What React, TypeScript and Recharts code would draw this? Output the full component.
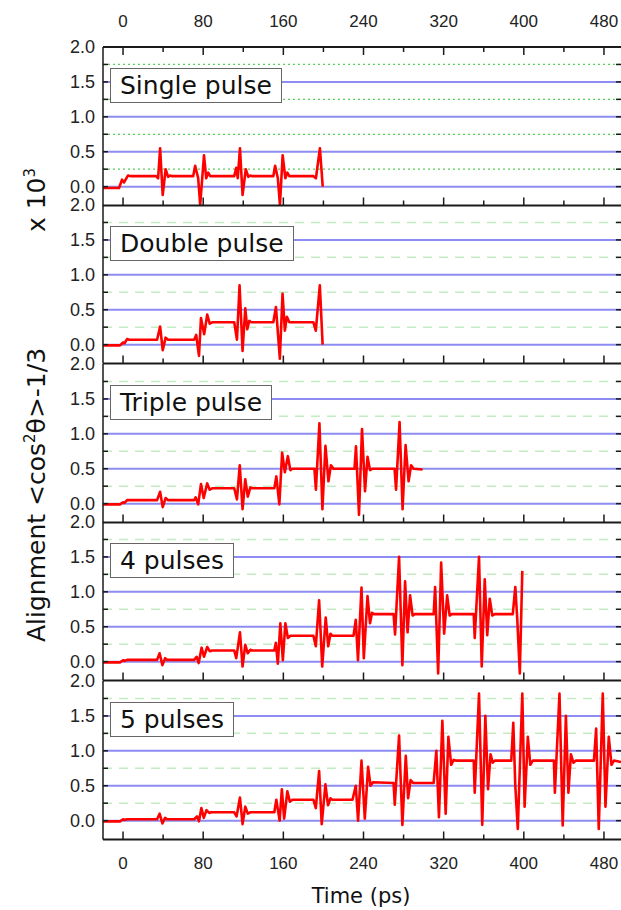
import React from 'react';
import { LineChart, Line, XAxis, YAxis, ReferenceLine } from 'recharts';

// ---------- axis / grid values ----------
const majorTicks = [0, 80, 160, 240, 320, 400, 480];
const allXTicks = [0, 40, 80, 120, 160, 200, 240, 280, 320, 360, 400, 440, 480];
const yLabelTicks = [0, 0.5, 1.0, 1.5, 2.0];
const yInnerTicks = [0, 0.25, 0.5, 0.75, 1.0, 1.25, 1.5, 1.75];
const blueLevels = [0, 0.5, 1.0, 1.5];
const greenLevels = [0.25, 0.75, 1.25, 1.75];
const panelLabels = ['Single pulse', 'Double pulse', 'Triple pulse', '4 pulses', '5 pulses'];
const xTitle = 'Time (ps)';

// ---------- series: [time (ps), alignment x10^3] ----------
const singlePulse: number[][] = [
  [-20, -0.02], [-4, -0.02], [-1, 0.1], [1, 0.06], [5, 0.16], [8, 0.15], [33, 0.15], [35, 0.12],
  [37, 0.55], [39.6, -0.12], [42.5, 0.25], [45, 0.14], [47, 0.16], [49, 0.15], [70, 0.15],
  [72, 0.3], [75, 0.12], [77, -0.26], [80.8, 0.45], [83, 0.12], [85, 0.2], [87, 0.15],
  [111, 0.15], [113, 0.27], [114.5, 0.12], [116.7, 0.55], [119.3, -0.12], [122.5, 0.25], [125, 0.14],
  [127, 0.16], [129, 0.15], [150, 0.15], [151.8, 0.3], [154.5, 0.12], [156.6, -0.26], [159.3, 0.45],
  [162, 0.12], [164, 0.2], [166, 0.15], [190, 0.15], [192.5, 0.12], [196.5, 0.55], [199.3, 0.0],
];

const doublePulse: number[][] = [
  [-20, -0.01], [-3, -0.01], [0, 0.03], [1.5, 0.02], [4, 0.08], [6, 0.07], [34, 0.07], [37, 0.26],
  [39.6, -0.08], [42.5, 0.1], [45, 0.07], [71, 0.07], [73, 0.14], [75.8, -0.16], [77.8, 0.38],
  [81, 0.15], [84, 0.43], [86.5, 0.3], [89, 0.32], [111, 0.32], [113.7, 0.07], [116.3, 0.85],
  [119.3, -0.09], [122, 0.52], [124, 0.22], [126, 0.34], [128, 0.32], [150, 0.32], [152.6, 0.54],
  [156.5, -0.2], [159.2, 0.73], [161.5, 0.2], [163.5, 0.4], [166, 0.32], [190, 0.32], [192.4, 0.2],
  [196.4, 0.85], [199.2, 0.0],
];

const triplePulse: number[][] = [
  [-20, -0.01], [-3, -0.01], [0, 0.02], [1.5, 0.01], [4, 0.05], [6, 0.05], [34, 0.05], [37, 0.17],
  [39.6, -0.05], [42.5, 0.08], [45, 0.05], [71, 0.05], [72.5, 0.09], [75, -0.01], [77.8, 0.28],
  [80.5, 0.08], [84, 0.29], [86.5, 0.2], [89, 0.22], [111, 0.22], [113.7, 0.06], [116.5, 0.55],
  [119.3, -0.08], [122, 0.35], [124.5, 0.1], [127, 0.23], [129, 0.22], [151, 0.22], [153, 0.39],
  [156, -0.01], [158.8, 0.73], [161.5, 0.45], [164.5, 0.68], [167, 0.48], [169, 0.5], [191, 0.5],
  [192.5, 0.2], [196, 1.15], [199, -0.08], [202, 0.83], [205, 0.32], [207.5, 0.55], [210, 0.5],
  [231, 0.5], [232.5, 0.82], [235.5, -0.16], [238.5, 1.07], [241.5, 0.18], [244, 0.67], [246.5, 0.48],
  [249, 0.5], [271, 0.5], [272.5, 0.2], [276, 1.17], [279, -0.08], [282, 0.84], [285, 0.32],
  [287.5, 0.55], [290, 0.5], [299, 0.49],
];

const fourPulses: number[][] = [
  [-20, -0.01], [-3, -0.01], [0, 0.02], [1.5, 0.01], [4, 0.025], [34, 0.025], [36.5, 0.12],
  [39.3, -0.05], [42, 0.05], [44, 0.025], [71, 0.025], [73.4, 0.07], [75.5, -0.02], [78.4, 0.2],
  [80.8, 0.07], [84, 0.21], [86.5, 0.15], [89, 0.16], [111, 0.16], [113, 0.05], [116.7, 0.42],
  [119.3, -0.07], [122, 0.24], [124.5, 0.12], [127, 0.17], [129, 0.16], [151, 0.16], [152.5, 0.27],
  [154.5, -0.03], [157, 0.55], [159.5, 0.02], [162, 0.55], [164.5, 0.34], [167, 0.37], [190, 0.37],
  [192.4, 0.22], [195.7, 0.88], [198.8, -0.07], [202.3, 0.63], [204.8, 0.22], [207, 0.4], [209, 0.37],
  [230, 0.37], [232.3, 0.6], [234.5, 0.02], [238, 1.06], [240.3, 0.05], [244, 0.94], [246.5, 0.55],
  [248.5, 0.7], [250.5, 0.68], [270, 0.68], [271.5, 0.39], [275.5, 1.5], [278.8, -0.05], [281.5, 1.15],
  [284, 0.42], [286.5, 0.95], [289, 0.66], [291, 0.68], [310, 0.68], [311.5, 1.07], [314.5, -0.17],
  [317.5, 1.42], [320.5, 0.4], [323.5, 0.95], [326, 0.66], [328, 0.68], [350, 0.68], [351, 0.34],
  [355.3, 1.5], [358, -0.07], [361, 1.18], [363.5, 0.38], [366, 0.9], [368.5, 0.66], [371, 0.68],
  [389, 0.68], [391.5, 1.07], [393.5, 0.6], [396, -0.17], [398.5, 1.3],
];

const fivePulses: number[][] = [
  [-20, -0.01], [-3, -0.01], [0, 0.02], [1.5, 0.01], [4, 0.02], [34, 0.02], [36.5, 0.1],
  [39.3, -0.04], [42, 0.04], [44, 0.02], [71, 0.02], [73.8, 0.06], [75.8, -0.01], [78.2, 0.18],
  [80.6, 0.04], [83.3, 0.15], [86, 0.11], [88, 0.12], [111, 0.12], [113.3, 0.06], [116.7, 0.33],
  [119.3, -0.05], [122, 0.2], [124.5, 0.1], [127, 0.12], [151, 0.12], [153, 0.3], [156.3, 0.0],
  [158.5, 0.45], [160.8, 0.03], [164, 0.42], [166.5, 0.27], [169, 0.3], [190, 0.3], [192.4, 0.18],
  [195.7, 0.71], [198.3, -0.05], [202, 0.52], [204.6, 0.22], [207, 0.32], [209, 0.3], [229, 0.3],
  [232.3, 0.5], [234.6, 0.0], [238, 0.86], [241.3, 0.03], [244.6, 0.77], [247, 0.5], [249.5, 0.55],
  [270, 0.54], [271.2, 0.23], [275.5, 1.22], [278.8, -0.06], [282.2, 0.93], [284.5, 0.32], [287, 0.58],
  [289.5, 0.54], [310, 0.54], [312.7, 1.0], [315.3, 0.05], [318.7, 1.43], [322, 0.1], [324.7, 1.2],
  [327.5, 0.8], [330, 0.87], [332, 0.86], [350, 0.86], [351, 0.4], [355.3, 1.82], [358.5, -0.06],
  [361.6, 1.5], [364.3, 0.45], [366.8, 0.95], [369, 0.83], [371, 0.86], [387.5, 0.86], [389.5, 1.4],
  [391.5, 0.5], [394, -0.12], [398.5, 1.82], [400.8, 0.2], [404, 1.2], [406.5, 0.8], [409, 0.86],
  [430, 0.86], [431, 0.4], [435.6, 1.82], [438.8, -0.07], [442, 1.5], [444.5, 0.4], [447, 0.95],
  [449.5, 0.83], [452, 0.86], [470, 0.86], [472.2, 1.32], [474.8, -0.12], [478.8, 1.82], [481.5, 0.2],
  [484.8, 1.2], [487.5, 0.8], [490, 0.86], [497, 0.84],
];

const panelSeries = [singlePulse, doublePulse, triplePulse, fourPulses, fivePulses];

// ---------- layout ----------
const W = 621;
const X_DOMAIN: [number, number] = [-20, 497];
const Y_DOMAIN: [number, number] = [-0.27, 2.0];
const PANEL_H = 158.5;
const FIRST_TOP = 46.5;
const MT = 40;
const MB = 60;
const FONT = '"Liberation Sans", Arial, sans-serif';
const TITLE_FONT = '"DejaVu Sans", sans-serif';
const AXIS_COLOR = '#1a1a1a';

// tick marks drawn inside the frame
const XMark = (props: any) => {
  const { x, y, payload, dir } = props;
  const len = payload && payload.value % 80 === 0 ? 8 : 5;
  return <line x1={x} x2={x} y1={y} y2={y + dir * len} stroke={AXIS_COLOR} strokeWidth={1.5} />;
};
const YMark = (props: any) => {
  const { x, y, dir } = props;
  return <line x1={x} x2={x + dir * 5} y1={y} y2={y} stroke={AXIS_COLOR} strokeWidth={1.5} />;
};

function Panel({ index }: { index: number }) {
  const top = FIRST_TOP + index * PANEL_H;
  const data = panelSeries[index].map(([t, v]) => ({ t, v }));
  const isFirst = index === 0;
  const isLast = index === panelSeries.length - 1;
  const green = isFirst
    ? { stroke: '#58cc58', dash: '2 3', w: 1.3 }
    : { stroke: '#c4ecc4', dash: '9 7', w: 1.5 };
  const h = PANEL_H + MT + MB;
  const mTop = isFirst ? MT - 1 : MT;
  const mBottom = isLast ? MB - 1 : MB;
  return (
    <div style={{ position: 'absolute', left: 0, top: top - MT, width: W, height: h }}>
      <LineChart width={W} height={h} data={data} margin={{ top: mTop, right: 0, bottom: mBottom, left: 0 }}>
        <XAxis xAxisId="main" dataKey="t" type="number" domain={X_DOMAIN} allowDataOverflow
          ticks={allXTicks} interval={0} orientation="bottom" mirror height={1} tickSize={0} tickMargin={0}
          tick={(p: any) => <XMark {...p} dir={-1} />} axisLine={{ stroke: AXIS_COLOR, strokeWidth: 2 }}
          tickLine={false} />
        {isFirst && (
          <XAxis xAxisId="topLabels" dataKey="t" type="number" domain={X_DOMAIN} allowDataOverflow
            ticks={majorTicks} interval={0} orientation="top" height={1} tickSize={0} tickMargin={20}
            tick={{ fill: '#222', fontSize: 17, fontFamily: FONT }}
            axisLine={{ stroke: AXIS_COLOR, strokeWidth: 2 }} tickLine={false} />
        )}
        {isFirst && (
          <XAxis xAxisId="topMarks" dataKey="t" type="number" domain={X_DOMAIN} allowDataOverflow
            ticks={allXTicks} interval={0} orientation="top" mirror height={1} tickSize={0} tickMargin={0}
            tick={(p: any) => <XMark {...p} dir={1} />} axisLine={false} tickLine={false} />
        )}
        {isLast && (
          <XAxis xAxisId="bottomLabels" dataKey="t" type="number" domain={X_DOMAIN} allowDataOverflow
            ticks={majorTicks} interval={0} orientation="bottom" height={1} tickSize={0} tickMargin={17}
            tick={{ fill: '#222', fontSize: 17, fontFamily: FONT }} axisLine={false} tickLine={false} />
        )}
        <YAxis yAxisId="main" type="number" domain={Y_DOMAIN} allowDataOverflow ticks={yLabelTicks}
          interval={0} width={103} tickSize={0} tickMargin={8}
          tickFormatter={(v: number) => v.toFixed(1)}
          tick={{ fill: '#222', fontSize: 18, fontFamily: FONT }}
          axisLine={{ stroke: AXIS_COLOR, strokeWidth: 1.5 }} tickLine={false} />
        <YAxis yAxisId="leftIn" type="number" domain={Y_DOMAIN} allowDataOverflow ticks={yInnerTicks}
          interval={0} mirror width={1} tickSize={0} tickMargin={0}
          tick={(p: any) => <YMark {...p} dir={1} />} axisLine={false} tickLine={false} />
        <YAxis yAxisId="rightIn" orientation="right" type="number" domain={Y_DOMAIN} allowDataOverflow
          ticks={yInnerTicks} interval={0} mirror width={1} tickSize={0} tickMargin={0}
          tick={(p: any) => <YMark {...p} dir={-1} />} axisLine={false} tickLine={false} />
        {greenLevels.map((y) => (
          <ReferenceLine key={'g' + y} xAxisId="main" yAxisId="main" y={y} stroke={green.stroke}
            strokeWidth={green.w} strokeDasharray={green.dash} />
        ))}
        {blueLevels.map((y) => (
          <ReferenceLine key={'b' + y} xAxisId="main" yAxisId="main" y={y} stroke="#8c8cf2" strokeWidth={2} />
        ))}
        <Line xAxisId="main" yAxisId="main" type="linear" dataKey="v" stroke="#ff0000" strokeWidth={2.6}
          strokeLinejoin="round" dot={false} isAnimationActive={false} />
      </LineChart>
    </div>
  );
}

export default function App() {
  return (
    <div style={{ position: 'absolute', left: 0, top: 0, width: W, height: 910, background: '#fff', overflow: 'hidden' }}>
      {panelSeries.map((_, i) => <Panel key={i} index={i} />)}
      {panelLabels.map((label, i) => (
        <div key={label} style={{
          position: 'absolute', left: 110, top: FIRST_TOP + i * PANEL_H + 21, height: 35,
          border: '1px solid #666', background: '#fff', padding: '0 9px', boxSizing: 'border-box',
          fontFamily: TITLE_FONT, fontSize: 25, lineHeight: '33px', color: '#111',
          whiteSpace: 'nowrap',
        }}>{label}</div>
      ))}
      <svg width={W} height={910} style={{ position: 'absolute', left: 0, top: 0, pointerEvents: 'none' }}>
        <text x={361} y={903} textAnchor="middle" fontFamily={TITLE_FONT} fontSize={21} fill="#111">{xTitle}</text>
        <text transform="translate(45,642) rotate(-90)" textAnchor="start" fontFamily={TITLE_FONT}
          fontSize={25} fill="#111">
          Alignment &lt;cos<tspan fontSize={15} dy={-10}>2</tspan><tspan dy={10}>θ&gt;-1/3</tspan>
        </text>
        <text transform="translate(45,168) rotate(-90)" textAnchor="end" fontFamily={TITLE_FONT}
          fontSize={25} fill="#111">
          x 10<tspan fontSize={15} dy={-10}>3</tspan>
        </text>
      </svg>
    </div>
  );
}
